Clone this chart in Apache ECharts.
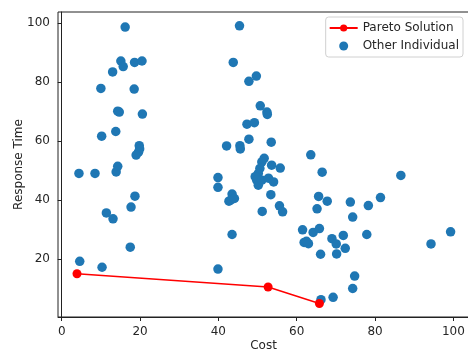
<!DOCTYPE html>
<html>
<head>
<meta charset="utf-8">
<script src="https://cdn.jsdelivr.net/npm/echarts@6/dist/echarts.min.js"></script>
<style>
  html, body { margin: 0; padding: 0; background: #fff; }
  #main { width: 468px; height: 351px; }
</style>
</head>
<body>
<div id="main"></div>
<script>
    // pareto front (cost, response time)
    var paretoCost = [3.9, 52.7, 65.8];
    var paretoTime = [15.0, 10.5, 4.9];

    // other individuals
    var otherCost = [
        4.4, 8.5, 13.9, 14.3, 10.0, 10.2, 13.8, 14.3, 14.7, 20.6,
        18.5, 13.0, 15.1, 15.7, 18.6, 20.5, 16.2, 19.8, 19.9, 19.6,
        19.0, 11.4, 13.1, 17.7, 18.7, 17.5, 4.6, 10.3,
        39.9, 39.9, 39.9, 43.5, 42.7, 43.1, 44.1, 43.5, 42.1, 45.5,
        45.6, 45.4, 43.8, 47.8, 49.7, 50.7, 52.4, 52.5, 47.3, 49.2,
        47.8, 53.5, 51.7, 51.1, 53.6, 55.8, 50.6, 50.2, 49.4, 49.8,
        50.2, 51.1, 52.8, 54.1, 53.4, 51.2, 55.6, 56.4,
        63.6, 66.5, 86.6, 65.6, 67.8, 65.2, 73.7, 74.3, 78.3, 81.4,
        61.5, 64.2, 65.8, 61.9, 63.0, 62.5, 69.0, 71.9, 70.1, 72.4,
        66.1, 70.2, 77.9, 94.3, 99.3, 74.8, 74.3, 69.3, 66.2
    ];
    var otherTime = [
        49.0, 49.0, 49.5, 51.4, 77.8, 61.6, 63.2, 70.1, 69.8, 69.1,
        77.6, 83.4, 87.1, 85.2, 86.6, 87.1, 98.6, 58.4, 57.3, 56.2,
        55.2, 35.6, 33.6, 37.6, 41.3, 24.0, 19.2, 17.2,
        16.6, 47.6, 44.3, 42.0, 39.6, 39.9, 40.5, 28.3, 58.3, 58.4,
        57.3, 99.0, 86.6, 80.2, 82.0, 71.9, 69.8, 69.0, 65.7, 66.2,
        60.6, 59.6, 54.1, 52.9, 51.8, 50.8, 50.7, 49.0, 47.9, 46.7,
        45.0, 46.7, 47.4, 46.1, 41.8, 36.1, 38.0, 36.0,
        55.3, 49.4, 48.3, 41.2, 39.6, 37.0, 39.3, 34.2, 38.1, 40.8,
        29.9, 29.0, 30.3, 25.6, 25.2, 26.0, 26.9, 28.0, 25.1, 23.6,
        21.6, 21.7, 28.3, 25.1, 29.2, 14.2, 10.0, 7.0, 6.2
    ];

    var xTicks = [0, 20, 40, 60, 80, 100];
    var yTicks = [20, 40, 60, 80, 100];

    function zip(a, b) {
        var out = [];
        for (var i = 0; i < a.length; i++) out.push([a[i], b[i]]);
        return out;
    }

    var font = 'DejaVu Sans';
    var myChart = echarts.init(document.getElementById('main'));
    var option = {
        animation: false,
        textStyle: { fontFamily: font },
        grid: {
            left: 58, top: 12, width: 411, height: 305,
            containLabel: false,
            outerBoundsMode: 'none',
            show: true, borderColor: '#222', borderWidth: 1
        },
        legend: {
            orient: 'vertical',
            right: 5, top: 17,
            itemWidth: 28, itemHeight: 9, itemGap: 6,
            padding: [5, 4, 5, 3],
            borderColor: '#d0d0d0', borderWidth: 1, borderRadius: 3,
            backgroundColor: 'rgba(255,255,255,0.8)',
            textStyle: { fontFamily: font, fontSize: 12, color: '#262626' },
            data: ['Pareto Solution', 'Other Individual']
        },
        xAxis: {
            type: 'value',
            min: -0.95, max: 104,
            name: 'Cost',
            nameLocation: 'middle',
            nameGap: 23,
            nameMoveOverlap: false,
            nameTextStyle: { fontFamily: font, fontSize: 12, color: '#262626' },
            splitLine: { show: false },
            axisLine: { lineStyle: { color: '#222', width: 1 } },
            axisTick: { customValues: xTicks, length: 4, lineStyle: { color: '#222' } },
            axisLabel: { customValues: xTicks, fontFamily: font, fontSize: 12, color: '#262626', margin: 9 }
        },
        yAxis: {
            type: 'value',
            min: 0.34, max: 103.7,
            name: 'Response Time',
            nameLocation: 'middle',
            nameGap: 33,
            nameMoveOverlap: false,
            nameTextStyle: { fontFamily: font, fontSize: 12, color: '#262626' },
            splitLine: { show: false },
            axisLine: { show: true, lineStyle: { color: '#222', width: 1 } },
            axisTick: { show: true, customValues: yTicks, length: 4, lineStyle: { color: '#222' } },
            axisLabel: { customValues: yTicks, fontFamily: font, fontSize: 12, color: '#262626', margin: 8 }
        },
        series: [
            {
                name: 'Pareto Solution',
                type: 'line',
                z: 5,
                data: zip(paretoCost, paretoTime),
                symbol: 'circle',
                symbolSize: 9,
                itemStyle: { color: '#ff0000' },
                lineStyle: { color: '#ff0000', width: 1.5 }
            },
            {
                name: 'Other Individual',
                type: 'scatter',
                z: 2,
                data: zip(otherCost, otherTime),
                symbolSize: 9.5,
                itemStyle: { color: '#1f77b4', opacity: 1 }
            }
        ]
    };
    myChart.setOption(option);
</script>
</body>
</html>
